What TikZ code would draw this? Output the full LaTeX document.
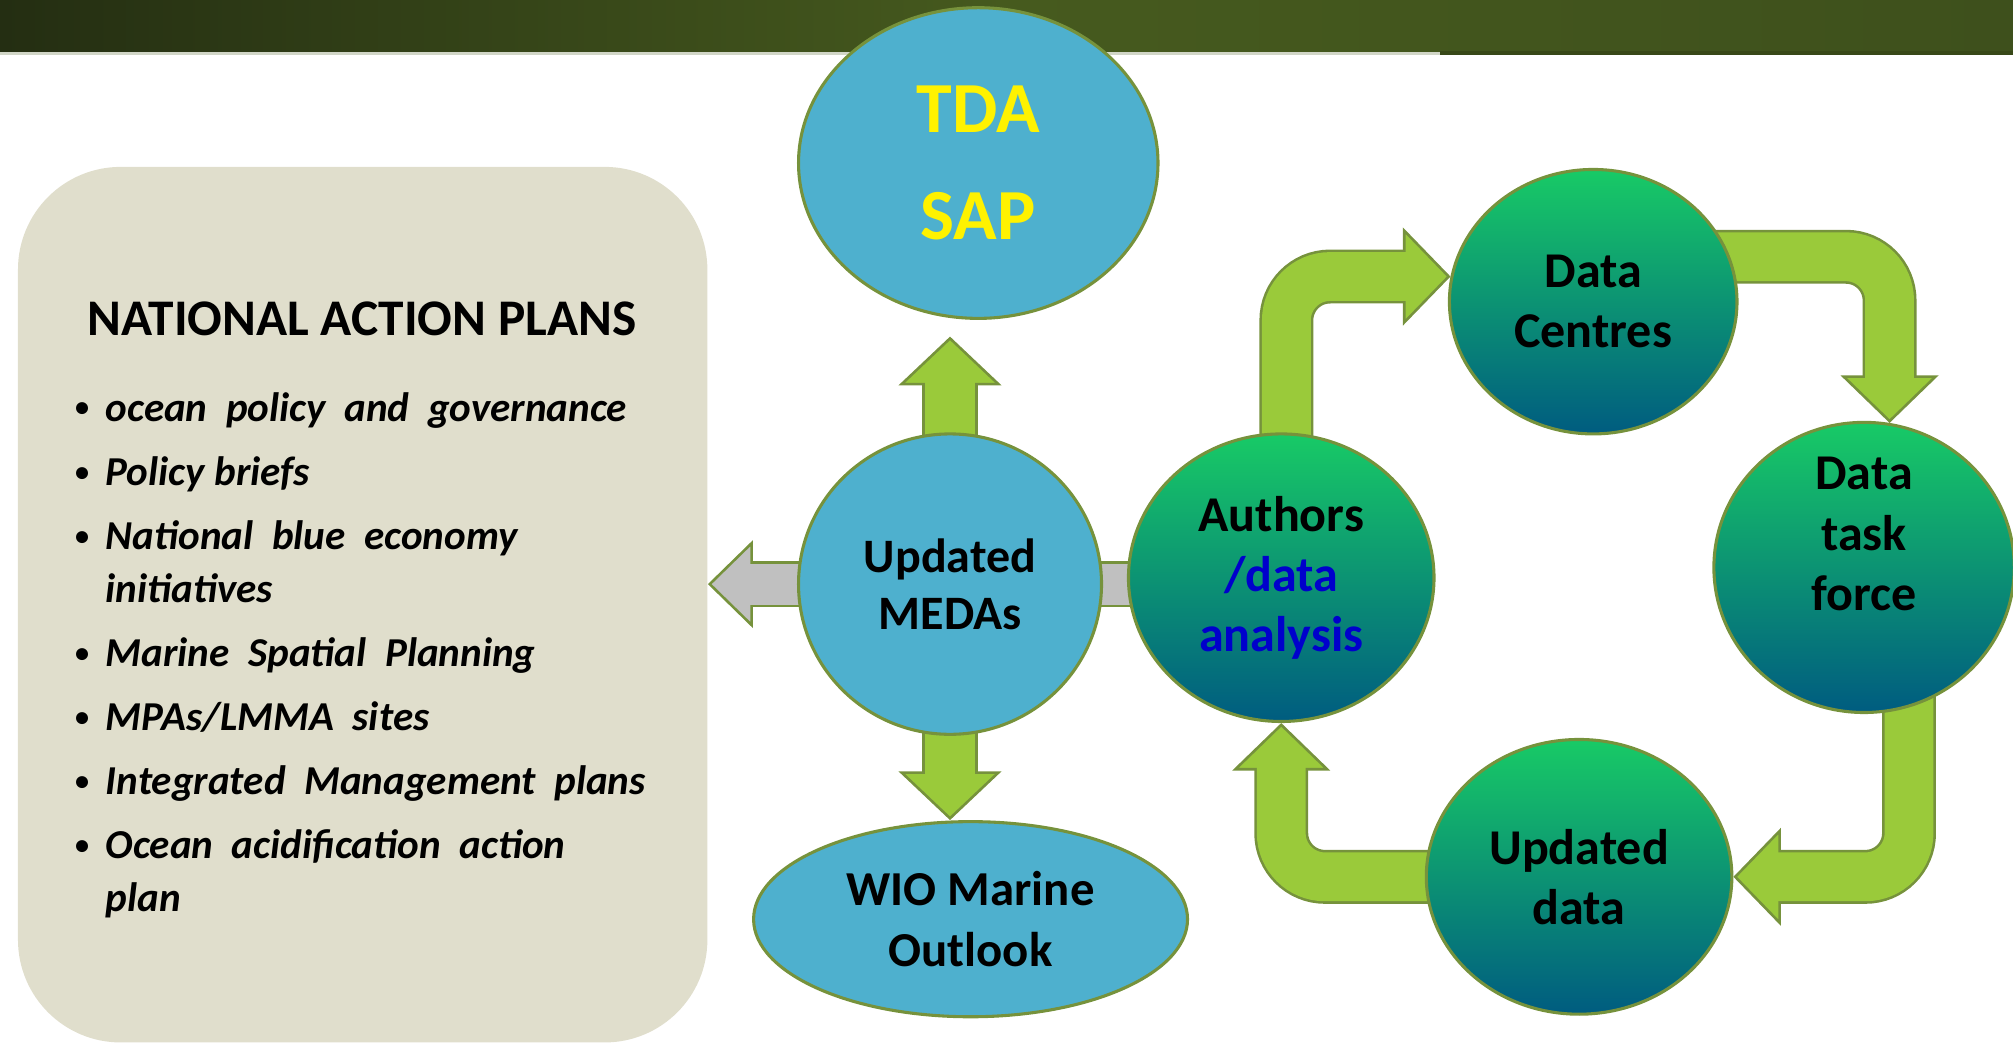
\documentclass[tikz,border=0pt]{standalone}
\usepackage{fontspec}
\setmainfont{Carlito}
\usetikzlibrary{shapes.geometric, arrows.meta, positioning, calc, backgrounds}

\definecolor{barleft}{RGB}{36,46,18}
\definecolor{barmid}{RGB}{70,90,30}
\definecolor{barright}{RGB}{62,80,28}
\definecolor{napfill}{RGB}{224,222,204}
\definecolor{nodeblue}{RGB}{78,176,206}
\definecolor{edgeolive}{RGB}{118,146,60}
\definecolor{arrowgreen}{RGB}{154,202,58}
\definecolor{arrowgray}{RGB}{192,192,192}
\definecolor{gtop}{RGB}{24,202,102}
\definecolor{gmid}{RGB}{16,160,118}
\definecolor{gbot}{RGB}{0,92,128}
\definecolor{textblue}{RGB}{0,0,204}

\newcommand{\napbullet}{\makebox[13pt][l]{\hspace{1pt}\raisebox{1.6pt}{\fontsize{11}{11}\selectfont\textbullet}}}

\tikzset{
  bluenode/.style={ellipse, draw=edgeolive, line width=1.2pt, fill=nodeblue, align=center,
    inner sep=0pt, font=\fontsize{19}{23.5}\selectfont\bfseries},
  greennode/.style={ellipse, draw=edgeolive, line width=1.2pt, top color=gtop, middle color=gmid,
    bottom color=gbot, align=center, inner sep=0pt, font=\fontsize{19.5}{23.5}\selectfont\bfseries},
  % fat block arrows: outline first, then the inner fill
  cycleout/.style={draw=edgeolive, line width=21pt, rounded corners=17pt,
    -{Triangle[width=38pt, length=18.5pt, fill=arrowgreen, line width=1pt]}},
  cyclein/.style={draw=arrowgreen, line width=19pt, rounded corners=17pt, shorten >=17pt},
  stemout/.style={draw=edgeolive, line width=21.5pt,
    -{Triangle[width=40pt, length=19pt, fill=arrowgreen, line width=1pt]}},
  stemin/.style={draw=arrowgreen, line width=19.5pt, shorten >=17.5pt},
  grayout/.style={draw=edgeolive, line width=18pt,
    -{Triangle[width=34pt, length=17.5pt, fill=arrowgray, line width=1pt]}},
  grayin/.style={draw=arrowgray, line width=16pt, shorten >=16pt},
}

\begin{document}
\begin{tikzpicture}[x=0.5pt, y=-0.5pt]
\useasboundingbox (0,0) rectangle (1568,812);

% Header bar and plans panel
\begin{scope}[on background layer]
\shade[left color=barleft, right color=barright, middle color=barmid] (0,0) rectangle (1568,42);
\fill[barmid!80!black] (1122,40) rectangle (1568,43);
\draw[line width=1pt, white!75!barmid] (0,41.5) -- (1122,41.5);
\node[fill=napfill, rounded corners=40pt, minimum width=268.5pt, minimum height=341pt,
  inner sep=0pt] (nap) at (282.5,471) {};
\end{scope}

% Panel text
\node[font=\fontsize{20}{24}\selectfont\bfseries] (naptitle) at (282,248) {NATIONAL ACTION PLANS};
\node[anchor=base west, inner sep=0pt, font=\fontsize{16}{20.5}\selectfont\bfseries\itshape] (naplist) at (56,328)
  {\begin{tabular}[t]{@{}l@{}l@{}}
   \napbullet & ocean\ \ policy\ \ and\ \ governance\\[4.5pt]
   \napbullet & Policy briefs\\[4.5pt]
   \napbullet & National\ \ blue\ \ economy\\
              & initiatives\\[4.5pt]
   \napbullet & Marine\ \ Spatial\ \ Planning\\[4.5pt]
   \napbullet & MPAs/LMMA\ \ sites\\[4.5pt]
   \napbullet & Integrated\ \ Management\ \ plans\\[4.5pt]
   \napbullet & Ocean\ \ acidification\ \ action\\
              & plan
   \end{tabular}};

% Blue outputs
\node[bluenode, minimum width=140pt, minimum height=121pt,
  font=\fontsize{28}{41.5}\selectfont\bfseries, text=yellow] (tda) at (762,127) {TDA\\SAP};
\node[bluenode, minimum width=118pt, minimum height=117pt,
  font=\fontsize{18.7}{22}\selectfont\bfseries] (medas) at (740,455) {Updated\\MEDAs};
\node[bluenode, minimum width=169pt, minimum height=76pt] (wio) at (756,716) {WIO Marine\\Outlook};

% Data cycle
\node[greennode, minimum width=119pt, minimum height=112pt] (authors) at (998,450)
  {Authors\\\textcolor{textblue}{/data}\\\textcolor{textblue}{analysis}};
\node[greennode, minimum width=112pt, minimum height=103pt] (centres) at (1241,235) {Data\\Centres};
\node[greennode, minimum width=117pt, minimum height=113pt] (taskforce) at (1452,442) {};
\node[font=\fontsize{19.5}{23.5}\selectfont\bfseries, align=center] (tasktext)
  at ([yshift=13pt]taskforce.center) {Data\\task\\force};
\node[greennode, minimum width=119pt, minimum height=107pt] (updated) at (1230,683) {Updated\\data};

% Block arrows sit behind the circles
\begin{scope}[on background layer]
\draw[grayout] (medas.center -| authors.center) -- (medas.center -| nap.east);
\draw[grayin] (medas.center -| authors.center) -- (medas.center -| nap.east);
\draw[stemout, shorten >=6.5pt] (medas.center) -- (medas.center |- tda.south);
\draw[stemin, shorten >=24pt] (medas.center) -- (medas.center |- tda.south);
\draw[stemout] (medas.center) -- (medas.center |- wio.north);
\draw[stemin] (medas.center) -- (medas.center |- wio.north);

\draw[cycleout] ([xshift=2pt]authors.center) |- (centres.170);
\draw[cyclein] ([xshift=2pt]authors.center) |- (centres.170);
\draw[cycleout] ([yshift=17.5pt]centres.center) -| (taskforce.80);
\draw[cyclein] ([yshift=17.5pt]centres.center) -| (taskforce.80);
\draw[cycleout] ([xshift=17.5pt]taskforce.center) |- (updated.east);
\draw[cyclein] ([xshift=17.5pt]taskforce.center) |- (updated.east);
\draw[cycleout] (updated.center) -| (authors.south);
\draw[cyclein] (updated.center) -| (authors.south);
\end{scope}
\end{tikzpicture}
\end{document}
